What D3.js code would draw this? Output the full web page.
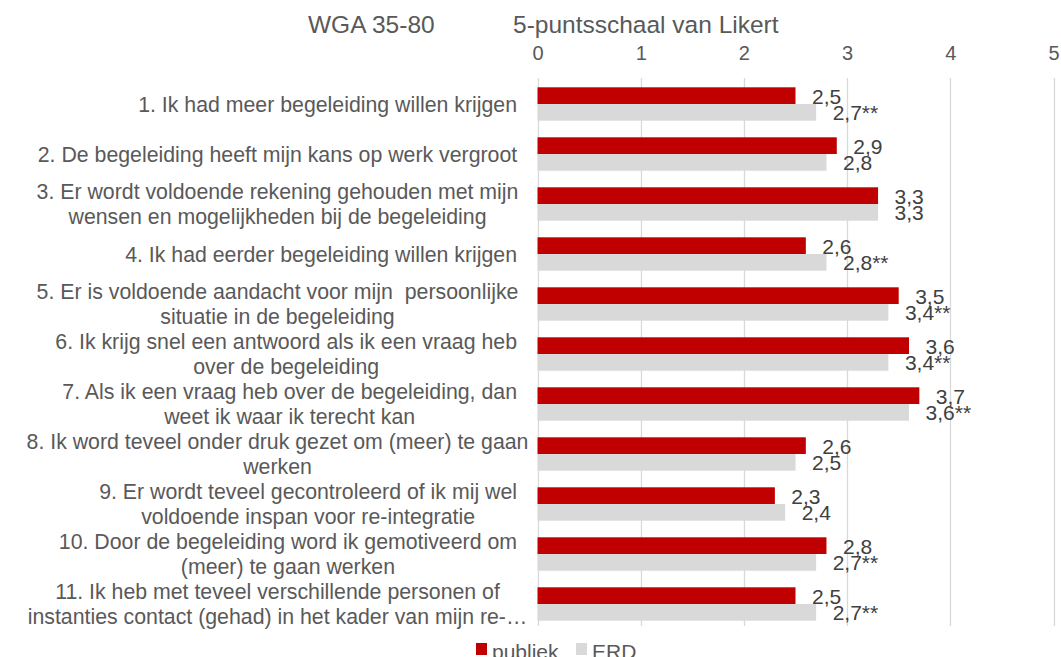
<!DOCTYPE html>
<html><head><meta charset="utf-8">
<script src="https://cdn.jsdelivr.net/npm/d3@7"></script>
<style>
html,body{margin:0;padding:0;background:#fff;}
svg{display:block;font-family:"Liberation Sans",Arial,sans-serif;}
</style></head>
<body><svg id="c" width="1061" height="657"></svg>
<script>
const categories = [
  ["1. Ik had meer begeleiding willen krijgen"],
  ["2. De begeleiding heeft mijn kans op werk vergroot"],
  ["3. Er wordt voldoende rekening gehouden met mijn", "wensen en mogelijkheden bij de begeleiding"],
  ["4. Ik had eerder begeleiding willen krijgen"],
  ["5. Er is voldoende aandacht voor mijn  persoonlijke", "situatie in de begeleiding"],
  ["6. Ik krijg snel een antwoord als ik een vraag heb", "over de begeleiding"],
  ["7. Als ik een vraag heb over de begeleiding, dan", "weet ik waar ik terecht kan"],
  ["8. Ik word teveel onder druk gezet om (meer) te gaan", "werken"],
  ["9. Er wordt teveel gecontroleerd of ik mij wel", "voldoende inspan voor re-integratie"],
  ["10. Door de begeleiding word ik gemotiveerd om", "(meer) te gaan werken"],
  ["11. Ik heb met teveel verschillende personen of", "instanties contact (gehad) in het kader van mijn re-…"]
];
const seriesNames = ["publiek", "ERD"];
const publiek = [2.5, 2.9, 3.3, 2.6, 3.5, 3.6, 3.7, 2.6, 2.3, 2.8, 2.5];
const erd     = [2.7, 2.8, 3.3, 2.8, 3.4, 3.4, 3.6, 2.5, 2.4, 2.7, 2.7];
const erdMarks = ["**", "", "", "**", "**", "**", "**", "", "", "**", "**"];
const tickValues = [0, 1, 2, 3, 4, 5];
const titleLeft = "WGA 35-80";
const titleRight = "5-puntsschaal van Likert";
const colors = ["#C00000", "#D9D9D9"];

const svg = d3.select("#c");
const textColor = "#595959";
const fmt = v => d3.format(".1f")(v).replace(".", ",");

const x = d3.scaleLinear().domain([0, 5]).range([537.5, 1053.5]);
const idx = categories.map((d, i) => i);
const y = d3.scaleBand().domain(idx).range([79, 629]).paddingInner(0.332).paddingOuter(0.166);
const ySub = d3.scaleBand().domain([0, 1]).range([0, y.bandwidth()]);

// gridlines
svg.append("g").selectAll("line").data(tickValues).join("line")
  .attr("x1", d => Math.round(x(d)) + 0.5).attr("x2", d => Math.round(x(d)) + 0.5)
  .attr("y1", 78).attr("y2", 626)
  .attr("stroke", "#D9D9D9").attr("stroke-width", 1.3);

// top axis tick labels
const ax = svg.append("g").attr("transform", "translate(0,60)")
  .call(d3.axisTop(x).tickValues(tickValues).tickSize(0).tickPadding(0).tickFormat(d3.format("d")));
ax.select(".domain").remove();
ax.selectAll("text").attr("font-size", 20).attr("fill", textColor)
  .attr("font-family", "Liberation Sans, Arial, sans-serif").attr("dy", 0);

// title
svg.append("text").attr("x", 308).attr("y", 33).attr("font-size", 24.5).attr("fill", textColor).text(titleLeft);
svg.append("text").attr("x", 513).attr("y", 33).attr("font-size", 24.5).attr("fill", textColor).text(titleRight);

// bars
const rows = idx.map(i => ({i, vals: [publiek[i], erd[i]], labels: [fmt(publiek[i]), fmt(erd[i]) + erdMarks[i]]}));
const g = svg.append("g");
rows.forEach(r => {
  r.vals.forEach((v, s) => {
    const top = y(r.i) + ySub(s);
    g.append("rect").attr("x", x(0)).attr("y", top)
      .attr("width", x(v) - x(0)).attr("height", ySub.bandwidth())
      .attr("fill", colors[s]);
    g.append("text").attr("x", x(v) + 16.5).attr("y", top + ySub.bandwidth() - 0.5)
      .attr("font-size", 21).attr("fill", "#404040").text(r.labels[s]);
  });
});

// category labels
const right = 517;
const maxLabelW = 479;
const lg = svg.append("g");
categories.forEach((lines, i) => {
  const cy = y(i) + y.bandwidth() / 2;
  const lh = 24.5;
  const tmp = lines.map(l => lg.append("text").attr("font-size", 21.3).attr("fill", textColor)
      .attr("text-anchor", "middle").style("white-space", "pre").text(l));
  const w = Math.min(maxLabelW, d3.max(tmp, t => t.node().getComputedTextLength()));
  const n = lines.length;
  tmp.forEach((t, k) => {
    const yy = cy + (k - (n - 1) / 2) * lh + 7.5;
    t.attr("x", right - w / 2).attr("y", yy);
  });
});

// legend
const leg = svg.append("g");
const legItems = [{name: seriesNames[0], c: colors[0], x: 476}, {name: seriesNames[1], c: colors[1], x: 576}];
legItems.forEach(d => {
  leg.append("rect").attr("x", d.x).attr("y", 643).attr("width", 11).attr("height", 12).attr("fill", d.c);
  leg.append("text").attr("x", d.x + 16).attr("y", 659).attr("font-size", 21).attr("fill", textColor).text(d.name);
});
</script></body></html>
